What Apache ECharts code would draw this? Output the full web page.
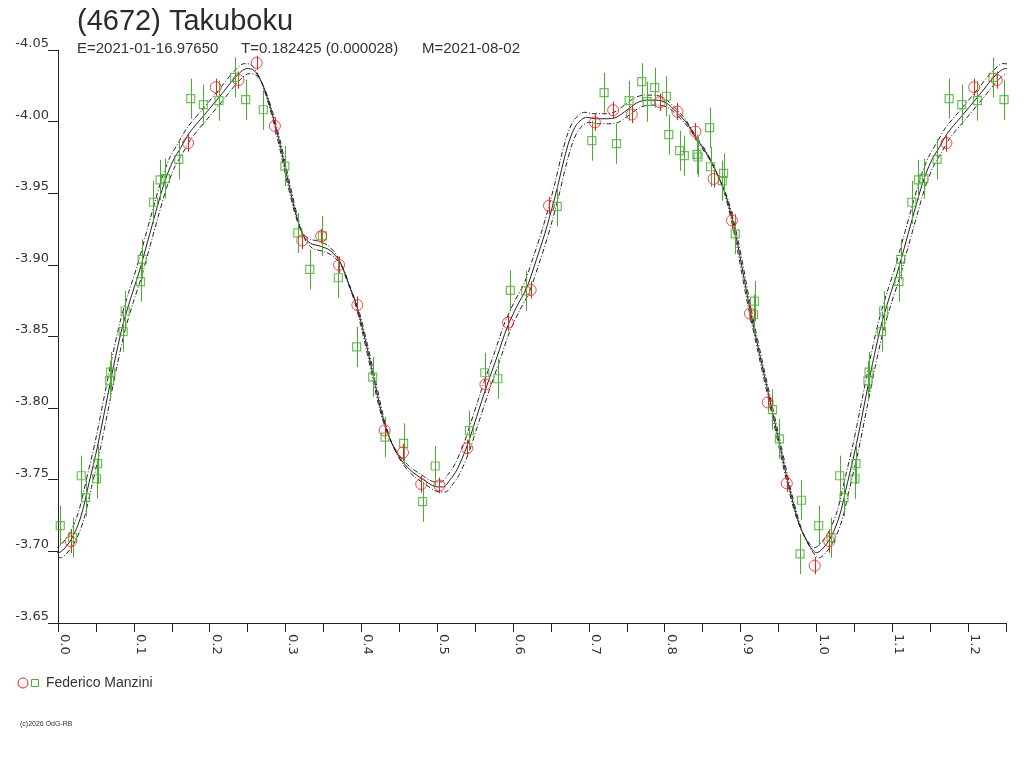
<!DOCTYPE html>
<html>
<head>
<meta charset="utf-8">
<script src="https://cdn.jsdelivr.net/npm/echarts@6/dist/echarts.min.js"></script>
<style>
  html, body { margin: 0; padding: 0; background: #fff; }
  #chart { width: 1024px; height: 768px; }
</style>
</head>
<body>
<div id="chart"></div>
<script>
var titleText = '(4672) Takuboku';
var subtitleParts = ['E=2021-01-16.97650', 'T=0.182425 (0.000028)', 'M=2021-08-02'];
var observerName = 'Federico Manzini';
var copyrightText = '(c)2026 OdG-RB';

// fitted light curve (phase, magnitude), one cycle
var curvePhase = [0.000, 0.017, 0.030, 0.041, 0.052, 0.063, 0.074, 0.085, 0.096, 0.107, 0.118, 0.129, 0.140, 0.151, 0.162, 0.173,
  0.195, 0.217, 0.234, 0.249, 0.258, 0.269, 0.280, 0.291, 0.304, 0.315, 0.324, 0.333, 0.346, 0.359, 0.372, 0.383, 0.394, 0.405,
  0.416, 0.427, 0.438, 0.451, 0.464, 0.482, 0.500, 0.508, 0.517, 0.526, 0.539,
  0.552, 0.565, 0.579, 0.592, 0.605, 0.618, 0.631, 0.642, 0.649, 0.658, 0.666, 0.675, 0.684, 0.697, 0.710, 0.723, 0.736, 0.750,
  0.763, 0.776, 0.789, 0.802, 0.815, 0.829, 0.842, 0.855, 0.868, 0.881, 0.894, 0.912, 0.925, 0.938, 0.951, 0.964, 0.978, 0.991];
var curveMag = [-3.699, -3.708, -3.724, -3.748, -3.773, -3.802, -3.831, -3.857, -3.877, -3.895, -3.916, -3.937, -3.957, -3.972, -3.982, -3.992,
  -4.006, -4.020, -4.031, -4.037, -4.036, -4.027, -4.010, -3.988, -3.957, -3.933, -3.920, -3.915, -3.913, -3.910, -3.902, -3.887, -3.871, -3.848,
  -3.822, -3.796, -3.778, -3.765, -3.757, -3.750, -3.745, -3.745, -3.750, -3.757, -3.773,
  -3.794, -3.815, -3.836, -3.856, -3.871, -3.884, -3.904, -3.922, -3.935, -3.953, -3.971, -3.988, -3.998, -4.003, -4.002, -4.002, -4.003, -4.008,
  -4.013, -4.015, -4.015, -4.013, -4.007, -3.999, -3.988, -3.978, -3.965, -3.948, -3.920, -3.870, -3.838, -3.807, -3.776, -3.745, -3.718, -3.704];
// the dash-dot lines either side of the fit: shift in phase and in magnitude
var bandPhase = 0.003;
var bandMag = 0.0035;

// session 1 (red circles)
var redPhase = [0.017, 0.1715, 0.208, 0.238, 0.262, 0.286, 0.322, 0.347, 0.3706, 0.3947, 0.4307, 0.4549, 0.4789, 0.503, 0.5395, 0.5636,
  0.5934, 0.6233, 0.6474, 0.708, 0.732, 0.7566, 0.7934, 0.8167, 0.8404, 0.8645, 0.8886, 0.9123, 0.9359, 0.961, 0.9978];
var redMag = [-3.707, -3.985, -4.024, -4.029, -4.041, -3.997, -3.917, -3.920, -3.900, -3.872, -3.7845, -3.769, -3.747, -3.746, -3.772, -3.8166,
  -3.8596, -3.8825, -3.9413, -3.9995, -4.008, -4.005, -4.0135, -4.007, -3.993, -3.960, -3.931, -3.866, -3.804, -3.7475, -3.690];
var redErr = [0.008, 0.006, 0.006, 0.006, 0.005, 0.006, 0.006, 0.005, 0.006, 0.006, 0.006, 0.006, 0.006, 0.0055, 0.006, 0.006,
  0.006, 0.006, 0.006, 0.006, 0.006, 0.006, 0.006, 0.006, 0.006, 0.006, 0.006, 0.006, 0.006, 0.006, 0.006];

// session 2 (green squares)
var greenPhase = [0.003, 0.0193, 0.0307, 0.0364, 0.0509, 0.0522, 0.068, 0.0693, 0.0859, 0.0886, 0.1088, 0.111, 0.1259, 0.1346, 0.1417, 0.1592,
  0.175, 0.1917, 0.2123, 0.2329, 0.2474, 0.2707, 0.2991, 0.3162, 0.332, 0.3487, 0.3697, 0.3938, 0.4149, 0.4312, 0.4557, 0.4807,
  0.4974, 0.5425, 0.5628, 0.5799, 0.5964, 0.6167, 0.6583, 0.7039, 0.7201, 0.7364, 0.753, 0.7697, 0.7768, 0.7868, 0.8022, 0.8053,
  0.8197, 0.8259, 0.8425, 0.8439, 0.8592, 0.8605, 0.8759, 0.8776, 0.893, 0.9184, 0.9171, 0.9421, 0.9513, 0.9803, 0.9785];
var greenMag = [-3.718, -3.7096, -3.7528, -3.7375, -3.7507, -3.7612, -3.819, -3.8252, -3.8534, -3.8678, -3.8883, -3.9039, -3.9437, -3.9593, -3.9602, -3.9737,
  -4.016, -4.0118, -4.0146, -4.0309, -4.0153, -4.0083, -3.969, -3.9223, -3.8969, -3.9202, -3.891, -3.8427, -3.8217, -3.7798, -3.7754, -3.7347,
  -3.7596, -3.7843, -3.8247, -3.8205, -3.8822, -3.8818, -3.9409, -3.9867, -4.0202, -3.9846, -4.0146, -4.0279, -4.0139, -4.0237, -4.0177, -3.9909,
  -3.9797, -3.9762, -3.9772, -3.9753, -3.9958, -3.9685, -3.9588, -3.9639, -3.9216, -3.8747, -3.8652, -3.799, -3.7786, -3.7357, -3.6982];
var greenErr = [0.014, 0.014, 0.014, 0.013, 0.014, 0.014, 0.014, 0.014, 0.014, 0.014, 0.014, 0.014, 0.015, 0.014, 0.014, 0.014,
  0.014, 0.014, 0.014, 0.014, 0.014, 0.014, 0.014, 0.014, 0.014, 0.014, 0.014, 0.014, 0.014, 0.014, 0.014, 0.014,
  0.014, 0.014, 0.014, 0.014, 0.014, 0.014, 0.014, 0.014, 0.014, 0.014, 0.014, 0.013, 0.014, 0.014, 0.014, 0.014,
  0.014, 0.014, 0.014, 0.014, 0.014, 0.014, 0.014, 0.014, 0.014, 0.014, 0.014, 0.014, 0.014, 0.014, 0.014];

var X_MAX = 1.25;
var RED = '#f02020';
var GREEN = '#4aae32';
var INK = '#222';

// repeat one cycle so the plot runs from phase 0 to 1.25
function foldPoints(ph, mag, err) {
  var out = [];
  ph.forEach(function (p, i) {
    out.push([p, mag[i], err[i]]);
    if (p + 1 <= X_MAX) out.push([p + 1, mag[i], err[i]]);
  });
  return out;
}

function foldCurve(dp, dm) {
  var out = [];
  curvePhase.forEach(function (p, i) {
    if (p > 0.96) out.push([p - 1 + dp, curveMag[i] + dm]);
  });
  curvePhase.forEach(function (p, i) { out.push([p + dp, curveMag[i] + dm]); });
  curvePhase.forEach(function (p, i) {
    if (p < 0.28) out.push([p + 1 + dp, curveMag[i] + dm]);
  });
  return out;
}

function errorBars(color) {
  return function (params, api) {
    var x = api.value(0), y = api.value(1), e = api.value(2);
    var a = api.coord([x, y - e]), b = api.coord([x, y + e]);
    var px = Math.round(a[0]) + 0.5;
    return {
      type: 'line',
      shape: { x1: px, y1: a[1], x2: px, y2: b[1] },
      style: { stroke: color, lineWidth: 1 }
    };
  };
}

var redPts = foldPoints(redPhase, redMag, redErr);
var greenPts = foldPoints(greenPhase, greenMag, greenErr);

var labelFont = { fontFamily: 'DejaVu Sans', fontSize: 13, color: '#333' };

var option = {
  animation: false,
  backgroundColor: '#fff',
  grid: { left: 58, right: 18, top: 50, bottom: 145, containLabel: false },
  xAxis: {
    type: 'value', min: 0, max: X_MAX, interval: 0.05,
    axisLine: { show: true, lineStyle: { color: INK, width: 1 } },
    axisTick: { show: true, length: 9, lineStyle: { color: INK } },
    splitLine: { show: false },
    axisLabel: Object.assign({
      rotate: -90, margin: 11, verticalAlign: 'bottom', showMaxLabel: true, showMinLabel: true,
      formatter: function (v) { return Math.round(v * 20) % 2 === 0 ? v.toFixed(1) : ''; }
    }, labelFont)
  },
  yAxis: {
    type: 'value', inverse: true, min: -4.05, max: -3.65, interval: 0.05,
    axisLine: { show: true, lineStyle: { color: INK, width: 1 } },
    axisTick: { show: true, length: 10, lineStyle: { color: INK } },
    splitLine: { show: false },
    axisLabel: Object.assign({
      margin: 9, verticalAlign: 'bottom',
      formatter: function (v) { return v.toFixed(2); }
    }, labelFont)
  },
  series: [
    {
      type: 'line', data: foldCurve(0, 0), smooth: 0.3, symbol: 'none', z: 2, clip: true,
      lineStyle: { color: INK, width: 1 }
    },
    {
      type: 'line', data: foldCurve(-bandPhase, -bandMag), smooth: 0.3, symbol: 'none', z: 2, clip: true,
      lineStyle: { color: INK, width: 1, type: [5, 2, 1, 2] }
    },
    {
      type: 'line', data: foldCurve(bandPhase, bandMag), smooth: 0.3, symbol: 'none', z: 2, clip: true,
      lineStyle: { color: INK, width: 1, type: [5, 2, 1, 2] }
    },
    { type: 'custom', renderItem: errorBars(GREEN), data: greenPts, encode: { x: 0, y: 1 }, z: 3, clip: true },
    { type: 'custom', renderItem: errorBars(RED), data: redPts, encode: { x: 0, y: 1 }, z: 3, clip: true },
    {
      type: 'scatter', data: greenPts, symbol: 'rect', symbolSize: 8, z: 4, clip: true,
      itemStyle: { color: 'rgba(0,0,0,0)', borderColor: GREEN, borderWidth: 1.2 }
    },
    {
      type: 'scatter', data: redPts, symbol: 'circle', symbolSize: 11, z: 4, clip: true,
      itemStyle: { color: 'rgba(0,0,0,0)', borderColor: RED, borderWidth: 1 }
    }
  ],
  graphic: [
    { type: 'text', left: 77, top: 7, style: { text: titleText, font: '29px "Liberation Sans", Arial, sans-serif', fill: '#2b2b2b' } },
    { type: 'text', left: 77, top: 41, style: { text: subtitleParts[0], font: '15px "Liberation Sans", Arial, sans-serif', fill: '#333' } },
    { type: 'text', left: 241, top: 41, style: { text: subtitleParts[1], font: '15px "Liberation Sans", Arial, sans-serif', fill: '#333' } },
    { type: 'text', left: 422, top: 41, style: { text: subtitleParts[2], font: '15px "Liberation Sans", Arial, sans-serif', fill: '#333' } },
    { type: 'circle', shape: { cx: 23, cy: 683, r: 5 }, style: { fill: 'none', stroke: RED, lineWidth: 1 } },
    { type: 'rect', shape: { x: 31.5, y: 679.5, width: 7, height: 7 }, style: { fill: 'none', stroke: GREEN, lineWidth: 1 } },
    { type: 'text', left: 46, top: 676, style: { text: observerName, font: '14px "Liberation Sans", Arial, sans-serif', fill: '#333' } },
    { type: 'text', left: 20, top: 721, style: { text: copyrightText, font: '7px "Liberation Sans", Arial, sans-serif', fill: '#333' } }
  ]
};

var chart = echarts.init(document.getElementById('chart'), null, { renderer: 'canvas' });
chart.setOption(option);
</script>
</body>
</html>
